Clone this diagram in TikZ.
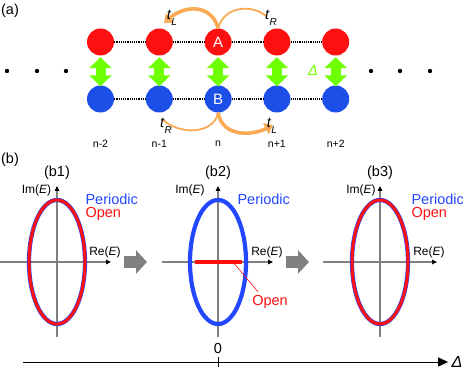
\documentclass[tikz,border=0pt]{standalone}
\usepackage{fontspec}
\setmainfont{Liberation Sans}
\usepackage{tikz}
\usetikzlibrary{arrows.meta}
\definecolor{sitered}{RGB}{255,16,16}
\definecolor{siteblue}{RGB}{28,78,232}
\definecolor{hopping}{RGB}{250,170,85}
\definecolor{coupling}{RGB}{110,255,0}
\definecolor{axisgray}{RGB}{128,128,128}
\definecolor{pbcblue}{RGB}{35,70,255}
\newcommand{\hop}[1]{\textit{t}\raisebox{-0.75ex}{\fontsize{10}{10}\selectfont\textit{#1}}}

\begin{document}
\begin{tikzpicture}[x=1pt,y=-1pt,
  font=\fontsize{14.5}{16}\selectfont,
  site/.style={circle,fill=#1,minimum size=27pt,inner sep=0pt,
    text=white,font=\fontsize{15}{15}\selectfont},
  bond/.style={densely dotted,line width=1.2pt},
  couple/.style={coupling,line width=10pt,
    {Triangle[width=22pt,length=11pt]}-{Triangle[width=22pt,length=11pt]},
    shorten <=1.5pt,shorten >=-1pt},
  hopthin/.style={hopping,line width=1.8pt},
  hopthick/.style={hopping,line width=3.6pt,-{Triangle[width=12pt,length=8pt]}},
  idx/.style={font=\fontsize{10.5}{12}\selectfont},
  axis/.style={axisgray,line width=1.2pt,
    -{Triangle[color=black,width=4.5pt,length=5pt]}},
  pbc/.style={pbcblue,line width=4.2pt},
  obc/.style={sitered,line width=3pt},
  small/.style={font=\fontsize{12}{14}\selectfont},
  bigarrow/.style={axisgray,line width=12pt,-{Triangle[width=23pt,length=11pt]}}]
  \useasboundingbox (0,0) rectangle (463,374);

  % (a) two-leg ladder
  \node (la) at (10,11) {(a)};
  \foreach \i/\la/\lb [evaluate=\i as \x using 100.5+58.8*(\i-1)] in {1//,2//,3/A/B,4//,5//} {
    \node[site=sitered] (a\i) at (\x,42) {\la};
    \node[site=siteblue] (b\i) at (\x,99) {\lb};
    \draw[couple] (a\i) -- (b\i);
  }
  \foreach \i [count=\j from 2] in {1,...,4} {
    \draw[bond] (a\i) -- (a\j);
    \draw[bond] (b\i) -- (b\j);
  }
  \foreach \i/\t in {1/n-2,2/n-1,3/n,4/n+1,5/n+2}
    \path (b\i) ++(0,45) node[idx] (n\i) {\t};
  \foreach \x in {7,37,66,371,400,430}
    \fill (\x,71) circle (2.2pt);
  \node[text=coupling] (delta) at (313,71) {\textit{Δ}};

  % hoppings
  \coordinate (tlTopEnd) at (164,23);
  \coordinate (trTopEnd) at (266,16);
  \coordinate (trBotEnd) at (162,119);
  \coordinate (tlBotEnd) at (273,125);
  \draw[hopthick] (a3.north) .. controls (212,5) and (186,4) .. (tlTopEnd);
  \draw[hopthin] (a3.north) .. controls (224,6) and (252,4) .. (trTopEnd);
  \draw[hopthin] (b3.south) .. controls (214,134) and (180,136) .. (trBotEnd);
  \draw[hopthick] (b3.south) .. controls (222,137) and (252,136) .. (tlBotEnd);
  \node (tL1) at (172,18) {\hop{L}};
  \node (tR1) at (271,18) {\hop{R}};
  \node (tR2) at (166,126) {\hop{R}};
  \node (tL2) at (272,126) {\hop{L}};

  % (b) spectra
  \node (lb) at (10,160) {(b)};
  \foreach \c/\l/\r/\k in {57/0/111/1,218/162/273/2,380/323/437/3} {
    \node (p\k) at (\c,173) {(b\k)};
    \draw[axis] (\l,262) -- (\r,262);
    \draw[axis] (\c,337) -- (\c,186);
  }
  \draw[pbc] (57,262) ellipse [x radius=28pt,y radius=62pt];
  \draw[obc] (57,262) ellipse [x radius=28pt,y radius=62pt];
  \draw[pbc] (218,262) ellipse [x radius=28pt,y radius=62pt];
  \draw[sitered,line width=3.6pt] (195,262) -- (242,262);
  \draw[pbc] (380,262) ellipse [x radius=28pt,y radius=62pt];
  \draw[obc] (380,262) ellipse [x radius=28pt,y radius=62pt];

  \node[small] (im1) at (36.5,190) {Im(\textit{E})};
  \node[small] (im2) at (190,190) {Im(\textit{E})};
  \node[small] (im3) at (361,190) {Im(\textit{E})};
  \node[small] (re1) at (105,252) {Re(\textit{E})};
  \node[small] (re2) at (267,252) {Re(\textit{E})};
  \node[small] (re3) at (429,252) {Re(\textit{E})};

  \node[anchor=west,text=pbcblue] (per1) at (82,199) {Periodic};
  \node[anchor=west,text=sitered] (open1) at (82,214) {Open};
  \node[anchor=west,text=pbcblue] (per2) at (234,199) {Periodic};
  \node[anchor=west,text=pbcblue] (per3) at (408,199) {Periodic};
  \node[anchor=west,text=sitered] (open3) at (408,214) {Open};

  \coordinate (seg) at (233,262);
  \node[text=sitered] (open2) at (270,302) {Open};
  \draw[sitered,line width=0.6pt] (seg) -- ([xshift=-12pt]open2.north);

  \coordinate (g1s) at (124,262);
  \coordinate (g1e) at (147,262);
  \coordinate (g2s) at (286,262);
  \coordinate (g2e) at (309,262);
  \draw[bigarrow] (g1s) -- (g1e);
  \draw[bigarrow] (g2s) -- (g2e);

  % Delta axis
  \coordinate (dstart) at (23,362);
  \node[font=\fontsize{16}{16}\selectfont] (dlabel) at (457,362) {\textit{Δ}};
  \draw[line width=1pt,-{Triangle[width=9pt,length=10pt]}] (dstart) -- (dlabel.west);
  \node (zero) at (218,349) {0};
  \draw[line width=0.8pt] (218,357) -- (218,367);
\end{tikzpicture}
\end{document}
